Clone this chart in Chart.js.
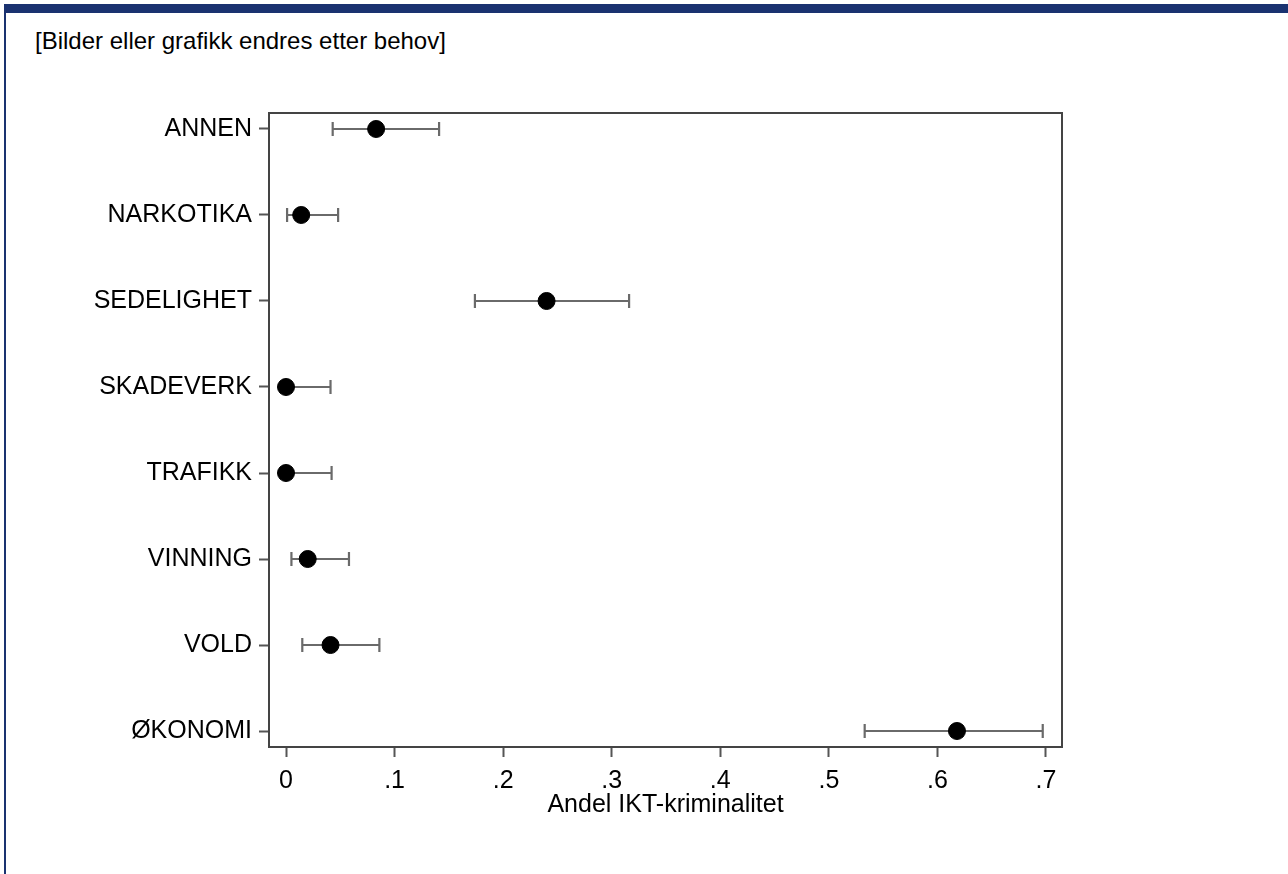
<!DOCTYPE html>
<html>
<head>
<meta charset="utf-8">
<script src="https://cdn.jsdelivr.net/npm/chart.js@4.4.1/dist/chart.umd.min.js"></script>
<style>
  html, body { margin: 0; padding: 0; background: #fff; }
  body { width: 1288px; height: 874px; position: relative; overflow: hidden; }
  #topbar { position: absolute; left: 4px; top: 4px; width: 1284px; height: 9px; background: #1a3270; }
  #leftbar { position: absolute; left: 4px; top: 4px; width: 2px; height: 870px; background: #1a3270; }
  #note { position: absolute; left: 35px; top: 26px; font: 24px 'Liberation Sans', Arial, sans-serif; line-height: 30px; color: #000; }
  #wrap { position: absolute; left: 0; top: 0; width: 1288px; height: 874px; }
</style>
</head>
<body>
<div id="topbar"></div>
<div id="leftbar"></div>
<div id="note">[Bilder eller grafikk endres etter behov]</div>
<div id="wrap"><canvas id="chart" width="1288" height="874"></canvas></div>
<script>
// kategorier (ovenfra og ned)
var categories = ['ANNEN', 'NARKOTIKA', 'SEDELIGHET', 'SKADEVERK', 'TRAFIKK', 'VINNING', 'VOLD', 'ØKONOMI'];
// andel IKT-kriminalitet, med konfidensintervall
var shares = [0.083, 0.014, 0.240, 0.000, 0.000, 0.020, 0.041, 0.618];
var lower  = [0.043, 0.001, 0.174, 0.000, 0.000, 0.005, 0.015, 0.533];
var upper  = [0.141, 0.048, 0.316, 0.041, 0.042, 0.058, 0.086, 0.697];
// x-akse
var xTicks = [0, 0.1, 0.2, 0.3, 0.4, 0.5, 0.6, 0.7];
var xTickLabels = ['0', '.1', '.2', '.3', '.4', '.5', '.6', '.7'];
var xTitle = 'Andel IKT-kriminalitet';

var FONT = "'Liberation Sans', Arial, sans-serif";

var points = shares.map(function(v, i) { return {x: v, y: i}; });

var errorBars = {
    id: 'errorBars',
    beforeDatasetsDraw: function(chart) {
        var ctx = chart.ctx;
        var xs = chart.scales.x, ys = chart.scales.y;
        var area = chart.chartArea;
        ctx.save();
        // ramme
        ctx.strokeStyle = '#444';
        ctx.lineWidth = 2;
        ctx.strokeRect(area.left, area.top, area.right - area.left, area.bottom - area.top);
        // feilstolper
        ctx.strokeStyle = '#6a6a6a';
        ctx.lineWidth = 2.2;
        for (var i = 0; i < categories.length; i++) {
            var y = ys.getPixelForValue(i);
            var x1 = xs.getPixelForValue(lower[i]);
            var x2 = xs.getPixelForValue(upper[i]);
            ctx.beginPath();
            ctx.moveTo(x1, y); ctx.lineTo(x2, y);
            ctx.moveTo(x1, y - 7); ctx.lineTo(x1, y + 7);
            ctx.moveTo(x2, y - 7); ctx.lineTo(x2, y + 7);
            ctx.stroke();
        }
        ctx.restore();
    }
};

window.onload = function() {
    var ctx = document.getElementById('chart').getContext('2d');
    window.myChart = new Chart(ctx, {
        type: 'scatter',
        data: {
            datasets: [{
                label: 'Andel',
                data: points,
                backgroundColor: '#000',
                borderColor: '#000',
                pointRadius: 8.5,
                pointHoverRadius: 8.5
            }]
        },
        options: {
            responsive: false,
            animation: false,
            events: [],
            layout: { padding: { left: 0, top: 113, right: 226, bottom: 54 } },
            plugins: { legend: { display: false }, tooltip: { enabled: false } },
            scales: {
                x: {
                    type: 'linear',
                    min: -0.01566,
                    max: 0.71474,
                    afterFit: function(scale) { scale.height = 73; },
                    afterBuildTicks: function(scale) {
                        scale.ticks = xTicks.map(function(v) { return {value: v}; });
                    },
                    ticks: {
                        color: '#000',
                        font: { family: FONT, size: 25 },
                        padding: 9,
                        maxRotation: 0,
                        autoSkip: false,
                        callback: function(v) {
                            var k = xTicks.findIndex(function(t) { return Math.abs(t - v) < 1e-9; });
                            return k >= 0 ? xTickLabels[k] : '';
                        }
                    },
                    grid: { display: true, drawOnChartArea: false, tickLength: 10, tickColor: '#555', tickWidth: 2 },
                    border: { display: false },
                    title: { display: true, text: xTitle, color: '#000', font: { family: FONT, size: 25 }, padding: 0 }
                },
                y: {
                    type: 'linear',
                    reverse: true,
                    min: -0.186,
                    max: 7.186,
                    afterFit: function(scale) { scale.width = 269; },
                    afterBuildTicks: function(scale) {
                        scale.ticks = categories.map(function(c, i) { return {value: i}; });
                    },
                    ticks: {
                        color: '#000',
                        font: { family: FONT, size: 25 },
                        padding: 7,
                        autoSkip: false,
                        callback: function(v) { return categories[v]; }
                    },
                    grid: { display: true, drawOnChartArea: false, tickLength: 10, tickColor: '#555', tickWidth: 2 },
                    border: { display: false }
                }
            }
        },
        plugins: [errorBars]
    });
};
</script>
</body>
</html>
